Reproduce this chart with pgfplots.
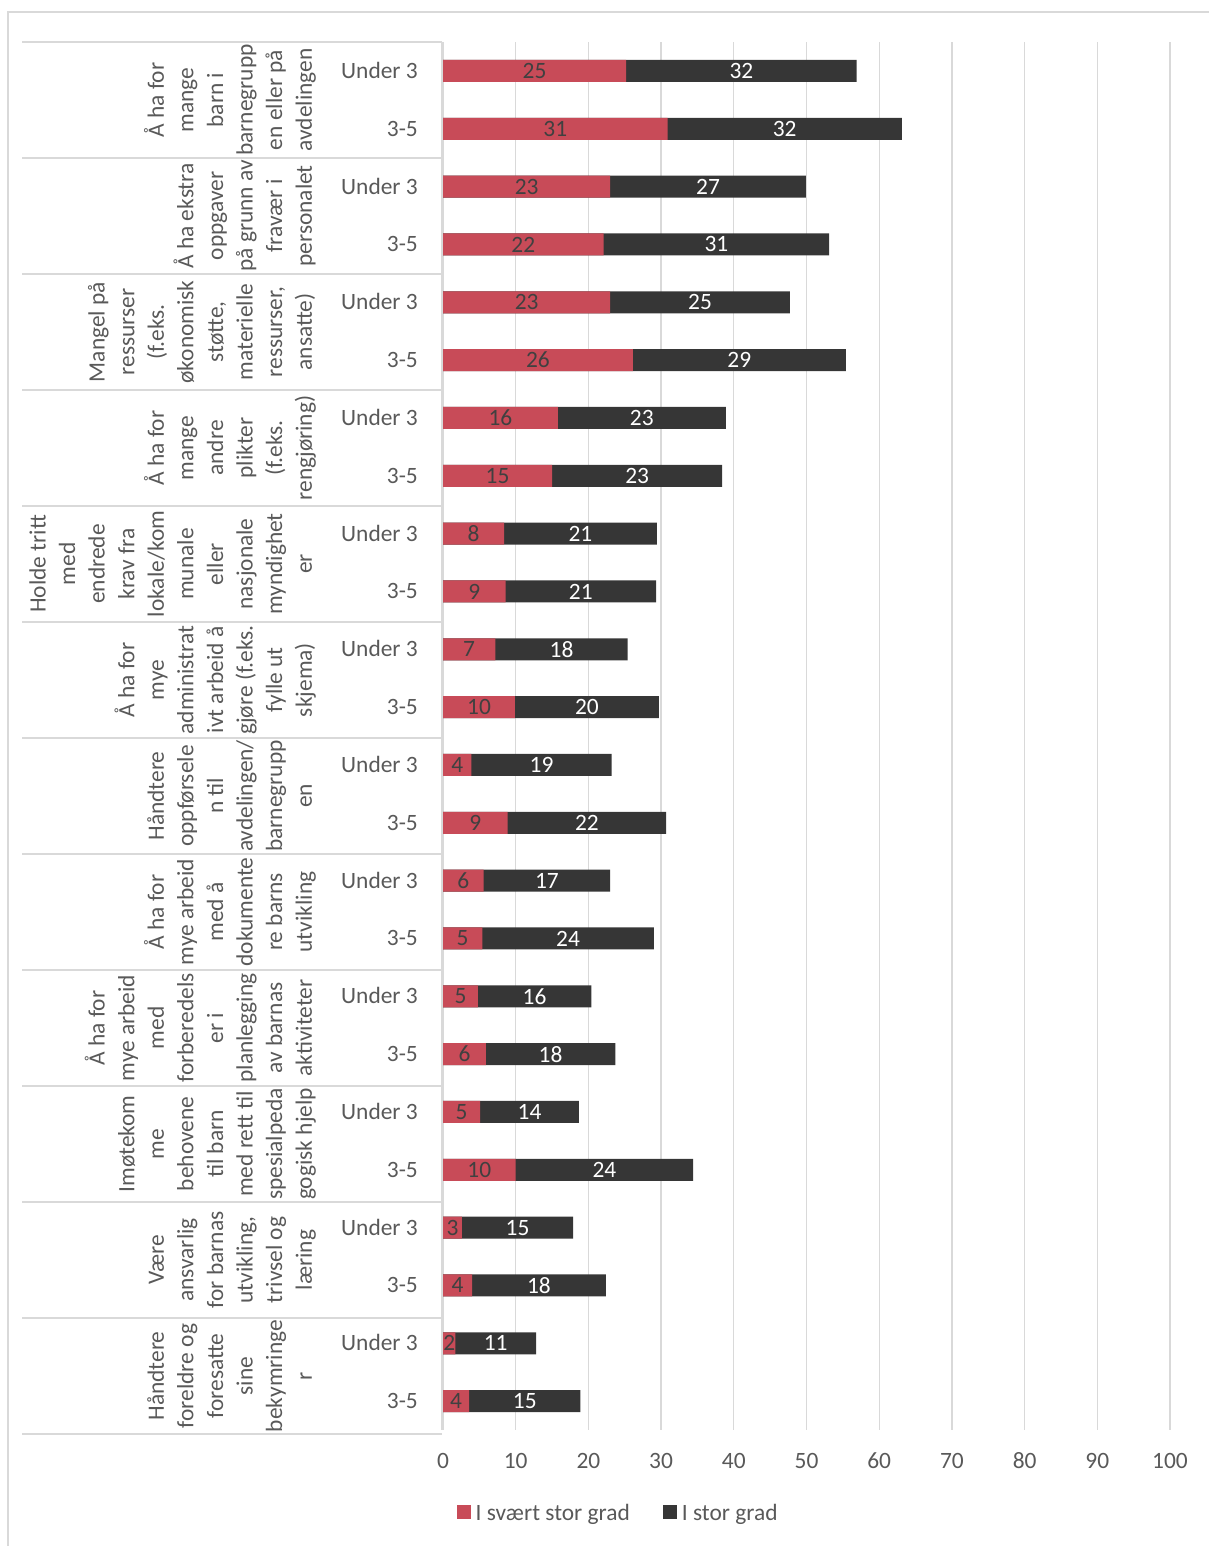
\documentclass[border=0pt]{standalone}
\usepackage{fontspec}
\setmainfont{Carlito}
\usepackage{pgfplots}
\usepackage{pgfplotstable}
\pgfplotsset{compat=1.18}

\definecolor{redbar}{HTML}{C84B58}
\definecolor{darkbar}{HTML}{363636}
\definecolor{txt}{HTML}{595959}
\definecolor{labdark}{HTML}{404040}
\definecolor{gridc}{HTML}{D9D9D9}

% r = I svaert stor grad, b = I stor grad; pos 0 = top bar
\pgfplotstableread{
pos r b
0 25.2 31.7
1 30.9 32.2
2 23.0 26.9
3 22.1 31.0
4 23.0 24.7
5 26.1 29.3
6 15.8 23.1
7 15.0 23.4
8 8.4 21.0
9 8.6 20.7
10 7.2 18.2
11 9.9 19.8
12 3.9 19.3
13 8.9 21.8
14 5.6 17.4
15 5.4 23.6
16 4.8 15.6
17 5.9 17.8
18 5.1 13.6
19 10.0 24.4
20 2.6 15.3
21 4.0 18.4
22 1.7 11.1
23 3.6 15.3
}\data

\newcommand{\lbl}{\fontsize{23.5}{29.7}\selectfont}

\begin{document}
\begin{tikzpicture}[x=1bp,y=1bp]
\path[use as bounding box] (0,0) rectangle (1209,1546);
\draw[gridc, line width=1.3bp] (8,0) -- (8,1534) -- (1209,1534);

\begin{axis}[
  at={(443bp,116bp)}, anchor=south west,
  scale only axis, width=727bp, height=1388bp,
  xmin=0, xmax=100, ymin=-0.5, ymax=23.5, y dir=reverse,
  axis line style={draw=none},
  xtick={0,10,...,100}, ytick={0,...,23},
  yticklabels={Under 3,3-5,Under 3,3-5,Under 3,3-5,Under 3,3-5,Under 3,3-5,Under 3,3-5,
               Under 3,3-5,Under 3,3-5,Under 3,3-5,Under 3,3-5,Under 3,3-5,Under 3,3-5},
  /pgf/number format/assume math mode=true,
  xticklabel={\pgfmathprintnumber{\tick}},
  major tick length=0pt,
  xmajorgrids, grid style={gridc, line width=1.3bp},
  tick label style={font=\lbl, text=txt},
  xticklabel style={anchor=base, inner sep=0pt, yshift=-38bp},
  yticklabel style={anchor=base east, inner sep=0pt, xshift=-25bp, yshift=-7.5bp},
  legend style={at={(0.243,-0.0598)}, anchor=center, draw=none, fill=none,
    font=\lbl, text=txt, legend columns=2,
    nodes={inner xsep=5bp, inner ysep=2bp},
    /tikz/every even column/.append style={column sep=28bp}},
  legend cell align=left,
  reverse legend,
  clip=false,
]
\addplot[xbar, bar width=22bp, bar shift=0pt, fill=darkbar, draw=none,
  legend image code/.code={\fill[darkbar] (0bp,-5.5bp) rectangle (14bp,8.5bp);}]
  table[x expr=\thisrow{r}+\thisrow{b}, y=pos]{\data};
\addlegendentry{I stor grad}
\addplot[xbar, bar width=22bp, bar shift=0pt, fill=redbar, draw=none,
  legend image code/.code={\fill[redbar] (0bp,-5.5bp) rectangle (14bp,8.5bp);}]
  table[x=r, y=pos]{\data};
\addlegendentry{I svært stor grad}

% value labels, centred in each segment
\addplot[draw=none, forget plot, point meta=explicit,
  nodes near coords={\pgfmathprintnumber[fixed,precision=0]{\pgfplotspointmeta}},
  every node near coord/.style={anchor=center, inner sep=0pt, font=\lbl, text=labdark}]
  table[x expr=\thisrow{r}/2, y=pos, meta=r]{\data};
\addplot[draw=none, forget plot, point meta=explicit,
  nodes near coords={\pgfmathprintnumber[fixed,precision=0]{\pgfplotspointmeta}},
  every node near coord/.style={anchor=center, inner sep=0pt, font=\lbl, text=white}]
  table[x expr=\thisrow{r}+\thisrow{b}/2, y=pos, meta=b]{\data};
\end{axis}

% category table lines
\foreach \k in {0,...,12}
  \draw[gridc, line width=1.3bp] (22,{1504-116*\k}) -- (442,{1504-116*\k});
\draw[gridc, line width=1.3bp] (442,1504) -- (442,116);

\tikzset{grp/.style={rotate=90, anchor=south, align=center, font=\lbl, text=txt,
  inner sep=0pt, text depth=6bp}}
\node[grp] at (318,{1446-116*0}) {Å ha for\\mange\\barn i\\barnegrupp\\en eller på\\avdelingen};
\node[grp] at (318,{1446-116*1}) {Å ha ekstra\\oppgaver\\på grunn av\\fravær i\\personalet};
\node[grp] at (318,{1446-116*2}) {Mangel på\\ressurser\\(f.eks.\\økonomisk\\støtte,\\materielle\\ressurser,\\ansatte)};
\node[grp] at (318,{1446-116*3}) {Å ha for\\mange\\andre\\plikter\\(f.eks.\\rengjøring)};
\node[grp] at (318,{1446-116*4}) {Holde tritt\\med\\endrede\\krav fra\\lokale/kom\\munale\\eller\\nasjonale\\myndighet\\er};
\node[grp] at (318,{1446-116*5}) {Å ha for\\mye\\administrat\\ivt arbeid å\\gjøre (f.eks.\\fylle ut\\skjema)};
\node[grp] at (318,{1446-116*6}) {Håndtere\\oppførsele\\n til\\avdelingen/\\barnegrupp\\en};
\node[grp] at (318,{1446-116*7}) {Å ha for\\mye arbeid\\med å\\dokumente\\re barns\\utvikling};
\node[grp] at (318,{1446-116*8}) {Å ha for\\mye arbeid\\med\\forberedels\\er i\\planlegging\\av barnas\\aktiviteter};
\node[grp] at (318,{1446-116*9}) {Imøtekom\\me\\behovene\\til barn\\med rett til\\spesialpeda\\gogisk hjelp};
\node[grp] at (318,{1446-116*10}) {Være\\ansvarlig\\for barnas\\utvikling,\\trivsel og\\læring};
\node[grp] at (318,{1446-116*11}) {Håndtere\\foreldre og\\foresatte\\sine\\bekymringe\\r};
\end{tikzpicture}
\end{document}
